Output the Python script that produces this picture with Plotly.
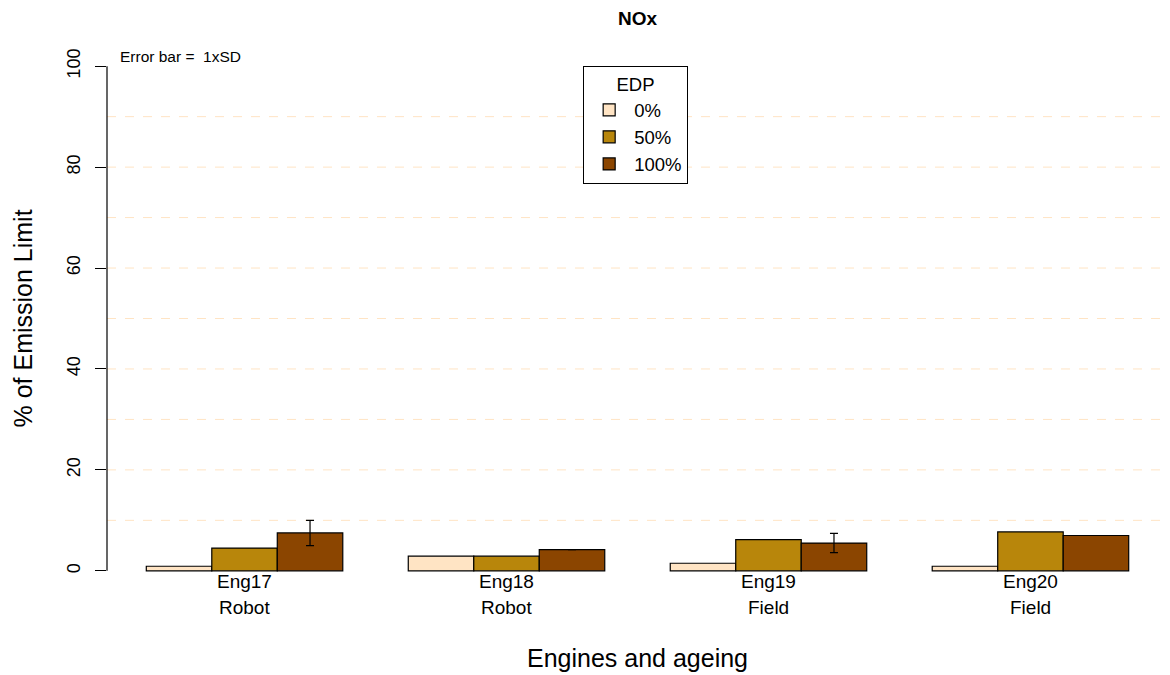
import plotly.graph_objects as go

# ---- data ----
engines = ["Eng17", "Eng18", "Eng19", "Eng20"]
ageing = ["Robot", "Robot", "Field", "Field"]
series_names = ["0%", "50%", "100%"]
vals_0 = [0.9, 2.9, 1.5, 0.9]
vals_50 = [4.5, 2.9, 6.2, 7.7]
vals_100 = [7.5, 4.2, 5.5, 7.0]
sd_100 = [2.5, None, 1.9, None]
grid_levels = [10, 20, 30, 40, 50, 60, 70, 80, 90]
y_ticks = [0, 20, 40, 60, 80, 100]

colors = ["#FFE4C4", "#B8860B", "#8B4500"]
FONT = "Liberation Sans, Arial, sans-serif"

fig = go.Figure()
all_vals = [vals_0, vals_50, vals_100]
for name, v, c in zip(series_names, all_vals, colors):
    kw = {}
    if name == "100%":
        kw["error_y"] = dict(type="data", array=sd_100, symmetric=True,
                             color="black", thickness=1.2, width=4, visible=True)
    fig.add_trace(go.Bar(
        x=engines, y=v, name=name,
        marker=dict(color=c, line=dict(color="black", width=1.2)),
        **kw))

shapes = []
for g in grid_levels:
    shapes.append(dict(type="line", xref="paper", x0=0, x1=1, yref="y", y0=g, y1=g,
                       line=dict(color="#FFE4C4", width=1, dash="dash"), layer="below"))
shapes.append(dict(type="line", xref="paper", x0=0, x1=0, yref="y", y0=0, y1=100,
                   line=dict(color="black", width=1.2)))

annotations = []
for e, a in zip(engines, ageing):
    annotations.append(dict(x=e, xref="x", y=0, yref="y", text=e, showarrow=False,
                            yanchor="middle", yshift=-11,
                            font=dict(size=19, color="black", family=FONT)))
    annotations.append(dict(x=e, xref="x", y=0, yref="y", text=a, showarrow=False,
                            yanchor="middle", yshift=-37,
                            font=dict(size=19, color="black", family=FONT)))
annotations.append(dict(x=0.5, xref="paper", y=0, yref="paper", text="Engines and ageing",
                        showarrow=False, yanchor="middle", yshift=-67,
                        font=dict(size=25, color="black", family=FONT)))
annotations.append(dict(x=0, xref="paper", y=50, yref="y", text="% of Emission Limit",
                        showarrow=False, textangle=-90, xanchor="center", xshift=-85,
                        font=dict(size=25, color="black", family=FONT)))
annotations.append(dict(x=0.0104, xref="paper", y=101.9, yref="y", text="Error bar =  1xSD",
                        showarrow=False, xanchor="left", yanchor="middle",
                        font=dict(size=15.5, color="black", family=FONT)))

fig.update_layout(
    width=1170, height=675,
    margin=dict(l=107, r=2, t=46, b=84),
    paper_bgcolor="white", plot_bgcolor="white",
    barmode="group", bargap=0.25, bargroupgap=0,
    font=dict(family=FONT, color="black"),
    title=dict(text="<b>NOx</b>", x=0.5, xref="paper", xanchor="center",
               y=1 - 18 / 675, yanchor="middle",
               font=dict(size=19, color="black", family=FONT)),
    xaxis=dict(range=[-0.525, 3.525], showticklabels=False, ticks="",
               showgrid=False, zeroline=False, showline=False),
    yaxis=dict(range=[-4, 104], tickvals=y_ticks, ticks="outside", ticklen=11,
               tickcolor="black", tickwidth=1.2, tickangle=-90,
               tickfont=dict(size=18, color="black", family=FONT),
               ticklabelstandoff=8,
               showgrid=False, zeroline=False, showline=False),
    legend=dict(x=0.4486, y=0.9633, xanchor="left", yanchor="top",
                bordercolor="black", borderwidth=1.2, bgcolor="white",
                font=dict(size=18.5, color="black", family=FONT),
                title=dict(text="EDP", side="top center",
                           font=dict(size=18.5, color="black", family=FONT)),
                traceorder="normal", itemwidth=40),
    shapes=shapes, annotations=annotations,
)

fig.write_html("out.html")
